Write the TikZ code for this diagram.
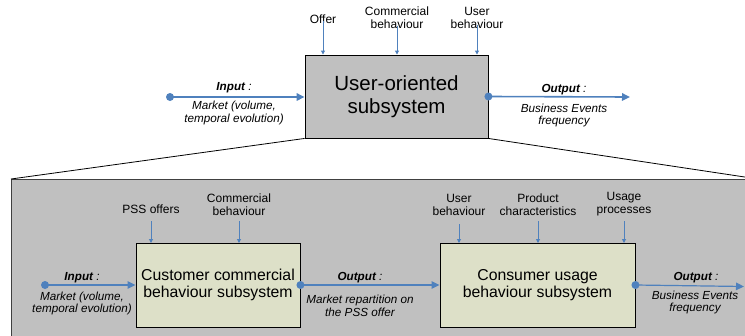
\documentclass[tikz,border=0pt]{standalone}
\usepackage{fontspec}
\setmainfont{Liberation Sans}
\usetikzlibrary{arrows.meta}
\definecolor{ablue}{RGB}{79,129,189}
\definecolor{boxgray}{RGB}{192,192,192}
\definecolor{innerfill}{RGB}{221,224,200}
\begin{document}
\begin{tikzpicture}[x=1pt,y=-1pt,
  flow/.style={ablue, line width=1.6pt, -{Triangle[length=8pt,width=7.5pt]}},
  ctrl/.style={ablue, line width=0.9pt, -{Triangle[length=4pt,width=4pt]}},
  lab/.style={font=\fontsize{12}{13}\selectfont, align=center, inner sep=0pt},
  ilab/.style={font=\fontsize{11.7}{12.5}\selectfont\itshape, align=center, inner sep=0pt},
  hlab/.style={font=\fontsize{11.7}{12.5}\selectfont\itshape, inner sep=0pt},
  dot/.style={circle, fill=ablue, inner sep=0pt, minimum size=8pt},
  mainbox/.style={draw=black, line width=0.9pt, fill=boxgray, minimum width=183pt, minimum height=83pt,
    align=center, font=\fontsize{20.5}{23}\selectfont, inner sep=0pt},
  subbox/.style={draw=black, line width=0.9pt, fill=innerfill, minimum height=84pt,
    align=center, font=\fontsize{15.8}{17}\selectfont, inner sep=0pt}
]
\clip (0,0) rectangle (745,335);
% lower enclosing box
\path[draw=black!75, line width=0.9pt, fill=boxgray] (11,179) rectangle (790,360);
\coordinate (lbl) at (11,179);
\coordinate (lbr) at (758,179);

% top box
\node[mainbox] (top) at (396.5,96.5) {User-oriented\\subsystem};
\draw[black, line width=0.8pt] (top.south west) -- (lbl);
\draw[black, line width=0.8pt] (top.south east) -- (lbr);

% top input / output
\node[dot] (tin) at (170,97) {};
\draw[flow] (tin.center) -- (top.west |- tin);
\node[hlab] (tinl) at (234,88) {\textbf{Input} :};
\node[ilab] (tinm) at (234,113) {Market (volume,\\temporal evolution)};
\node[dot] (tout) at (top.east) {};
\coordinate (toutend) at (630,97);
\draw[flow] (tout.center) -- (toutend);
\node[hlab] (toutl) at (564,90) {\textbf{Output} :};
\node[ilab] (toutm) at (564,115.5) {Business Events\\frequency};

% top controls
\node[lab] (offer) at (323,19) {Offer};
\draw[ctrl] ([yshift=3pt]offer.south) -- (offer.south |- top.north);
\node[lab] (comm) at (397,17.5) {Commercial\\behaviour};
\draw[ctrl] ([yshift=3pt]comm.south) -- (comm.south |- top.north);
\node[lab] (userb) at (477,17.5) {User\\behaviour};
\draw[ctrl] ([yshift=3pt]userb.south) -- (userb.south |- top.north);

% inner boxes
\node[subbox, minimum width=164pt] (cust) at (218,285) {Customer commercial\\behaviour subsystem};
\node[subbox, minimum width=195pt] (cons) at (537.5,285) {Consumer usage\\behaviour subsystem};

% inner input
\node[dot] (iin) at (45,285) {};
\draw[flow, line width=1.2pt] (iin.center) -- (cust.west |- iin);
\node[hlab] (iinl) at (82,278) {\textbf{Input} :};
\node[ilab] (iinm) at (82,303.5) {Market (volume,\\temporal evolution)};

% middle output
\node[dot] (mout) at (cust.east) {};
\draw[flow, line width=1.2pt] (mout.center) -- (cons.west);
\node[hlab] (moutl) at (360,278) {\textbf{Output} :};
\node[ilab] (moutm) at (360,306) {Market repartition on\\the PSS offer};

% right output
\node[dot] (rout) at (cons.east) {};
\coordinate (routend) at (744,286.5);
\draw[flow, line width=1.2pt] (rout.center) -- (routend);
\node[hlab] (routl) at (696,278) {\textbf{Output} :};
\node[ilab] (routm) at (695,302.5) {Business Events\\frequency};

% inner controls
\node[lab] (pss) at (151,209) {PSS offers};
\draw[ctrl] (151,221) -- (151,243);
\node[lab] (comm2) at (239,204.5) {Commercial\\behaviour};
\draw[ctrl] (239,221) -- (239,243);
\node[lab] (user2) at (459,204.5) {User\\behaviour};
\draw[ctrl] (459,224) -- (459,243);
\node[lab] (prod) at (538,204.5) {Product\\characteristics};
\draw[ctrl] (538,221) -- (538,243);
\node[lab] (usage) at (624,204.5) {Usage\\processes};
\draw[ctrl] (624,221) -- (624,243);
\end{tikzpicture}
\end{document}
